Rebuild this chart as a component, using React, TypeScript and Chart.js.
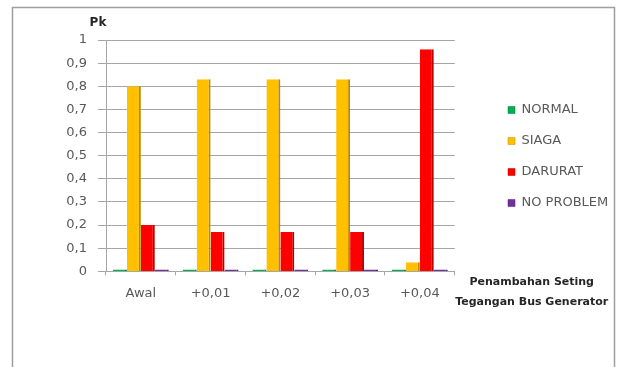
import React, { useEffect, useRef } from 'react';
import { Chart, registerables } from 'chart.js';

Chart.register(...registerables);

// ---- data ----
const categories = ['Awal', '+0,01', '+0,02', '+0,03', '+0,04'];
const seriesLabels = ['NORMAL', 'SIAGA', 'DARURAT', 'NO PROBLEM'];
const normalValues = [0, 0, 0, 0, 0];
const siagaValues = [0.8, 0.83, 0.83, 0.83, 0.04];
const daruratValues = [0.2, 0.17, 0.17, 0.17, 0.96];
const noProblemValues = [0, 0, 0, 0, 0];
const yTickLabels = ['0', '0,1', '0,2', '0,3', '0,4', '0,5', '0,6', '0,7', '0,8', '0,9', '1'];
const yAxisTitle = 'Pk';
const xAxisTitleLines = ['Penambahan Seting', 'Tegangan Bus Generator'];

// ---- styles ----
const FONT = "'DejaVu Sans', sans-serif";
const TEXT = '#595959';
const GRID = '#A6A6A6';
const fills = ['#00B050', '#FFC000', '#FF0000', '#7030A0'];
const sides = ['#007A38', '#C08A00', '#B80000', '#4A1F6B'];
const LEGEND_BOX_X = 508;
const LEGEND_DY = -19;

const framePlugin = {
  id: 'frame',
  beforeDraw(chart: any) {
    const { ctx, width, height } = chart;
    ctx.save();
    ctx.fillStyle = '#ffffff';
    ctx.fillRect(0, 0, width, height);
    ctx.strokeStyle = '#9E9E9E';
    ctx.lineWidth = 1.5;
    ctx.strokeRect(12.5, 7.5, 602, 420);
    ctx.restore();
  },
};

const legendPlacePlugin = {
  id: 'legendPlace',
  afterLayout(chart: any) {
    const lg = chart.legend;
    if (!lg) return;
    const pad = lg.options.labels.padding;
    const dx = LEGEND_BOX_X - pad - lg.left;
    lg.left += dx;
    lg.right += dx;
    lg.top += LEGEND_DY;
    lg.bottom += LEGEND_DY;
  },
};

const titlesPlugin = {
  id: 'titles',
  afterDraw(chart: any) {
    const { ctx, chartArea } = chart;
    const y = chart.scales.y;
    ctx.save();
    ctx.fillStyle = '#262626';
    ctx.textAlign = 'center';
    ctx.textBaseline = 'middle';
    ctx.font = `bold 12px ${FONT}`;
    ctx.fillText(yAxisTitle, y.right - 8, chartArea.top - 17);
    ctx.font = `bold 11px ${FONT}`;
    xAxisTitleLines.forEach((line, i) => {
      ctx.fillText(line, chartArea.right + 77, chartArea.bottom + 11 + i * 20);
    });
    ctx.restore();
  },
};

export default function App() {
  const ref = useRef<HTMLCanvasElement | null>(null);

  useEffect(() => {
    if (!ref.current) return;
    const seriesValues = [normalValues, siagaValues, daruratValues, noProblemValues];
    const chart = new Chart(ref.current, {
      type: 'bar',
      data: {
        labels: categories,
        datasets: seriesLabels.map((label, i) => ({
          label,
          data: seriesValues[i],
          backgroundColor: fills[i],
          borderColor: sides[i],
          borderWidth: { top: 0, right: 2, bottom: 0, left: 0 },
          borderSkipped: 'start',
          minBarLength: 2,
          categoryPercentage: 0.8,
          barPercentage: 1,
        })),
      },
      options: {
        responsive: false,
        animation: false,
        events: [],
        layout: { padding: { top: 40, left: 56, right: 38, bottom: 56 } },
        plugins: {
          tooltip: { enabled: false },
          legend: {
            position: 'right',
            align: 'center',
            labels: {
              boxWidth: 7,
              boxHeight: 7,
              padding: 18,
              color: TEXT,
              font: { family: FONT, size: 13 },
            },
          },
        },
        scales: {
          x: {
            grid: {
              display: true,
              drawOnChartArea: false,
              drawTicks: true,
              tickLength: 4,
              color: GRID,
              offset: true,
            },
            border: { display: true, color: GRID },
            ticks: {
              color: TEXT,
              padding: 10,
              font: { family: FONT, size: 13 },
              maxRotation: 0,
            },
          },
          y: {
            min: 0,
            max: 1,
            afterFit: (s: any) => {
              s.width = 50;
            },
            grid: { color: GRID, tickLength: 8, drawTicks: true },
            border: { display: true, color: GRID },
            ticks: {
              stepSize: 0.1,
              color: TEXT,
              padding: 11,
              font: { family: FONT, size: 13 },
              callback: (_v: any, i: number) => yTickLabels[i],
            },
          },
        },
      },
      plugins: [framePlugin, legendPlacePlugin, titlesPlugin],
    } as any);
    return () => chart.destroy();
  }, []);

  return (
    <div style={{ position: 'fixed', left: 0, top: 0, width: 621, height: 367, background: '#fff' }}>
      <canvas ref={ref} width={621} height={367} style={{ display: 'block', width: 621, height: 367 }} />
    </div>
  );
}
